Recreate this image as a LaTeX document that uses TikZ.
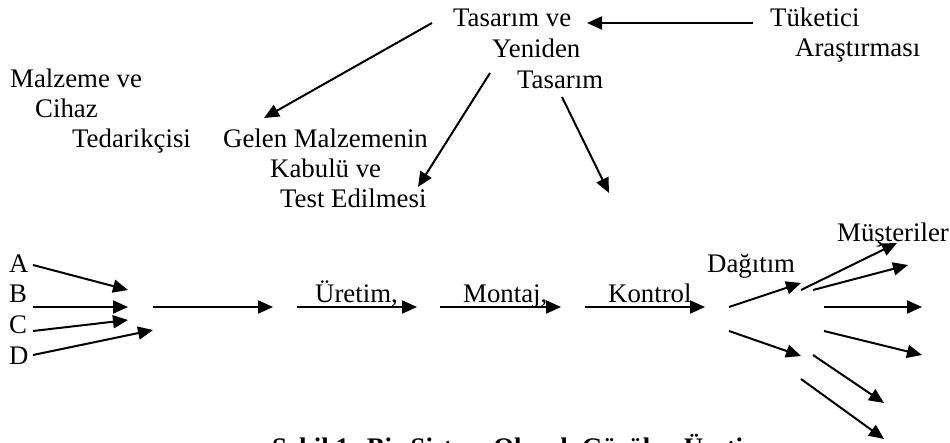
\documentclass[tikz,border=0pt]{standalone}
\usepackage{fontspec}
\setmainfont{Liberation Serif}
\usetikzlibrary{arrows.meta}
\begin{document}
\begin{tikzpicture}[x=1pt,y=-1pt,
  lbl/.style={anchor=base west,inner sep=0pt,font=\fontsize{26.8}{31}\selectfont},
  captext/.style={lbl,font=\fontsize{26.8}{31}\selectfont\bfseries},
  arr/.style={line width=2pt,-{Triangle[length=15pt,width=13pt]}}]
\useasboundingbox (0,0) rectangle (950,443);
\clip (0,0) rectangle (950,443);
% texts
\node[lbl] (tas1) at (453,27) {Tasarım ve};
\node[lbl] (tas2) at (492,58) {Yeniden};
\node[lbl] (tas3) at (517,89) {Tasarım};
\node[lbl] (tuk1) at (770,27) {Tüketici};
\node[lbl] (tuk2) at (795,57) {Araştırması};
\node[lbl] (mal1) at (10,88) {Malzeme ve};
\node[lbl] (mal2) at (35,118) {Cihaz};
\node[lbl] (mal3) at (72,148) {Tedarikçisi};
\node[lbl] (gel1) at (223,148) {Gelen Malzemenin};
\node[lbl] (gel2) at (270,178) {Kabulü ve};
\node[lbl] (gel3) at (280,208) {Test Edilmesi};
\node[lbl] (A) at (9,273) {A};
\node[lbl] (B) at (9,303) {B};
\node[lbl] (C) at (9,334) {C};
\node[lbl] (D) at (9,365) {D};
\node[lbl] (ure) at (315,303) {Üretim,};
\node[lbl] (mon) at (463,303) {Montaj,};
\node[lbl] (kon) at (608,303) {Kontrol};
\node[lbl] (dag) at (707,273) {Dağıtım};
\node[lbl] (mus) at (837,242) {Müşteriler};
\node[captext] (caption) at (272,456) {Şekil 1: Bir Sistem Olarak Görülen Üretim};
% connector end points
\coordinate (t0) at (753,23);  \coordinate (t1) at (587,23);
\coordinate (g0) at (432,23);  \coordinate (g1) at (264,118);
\coordinate (e0) at (490,73);  \coordinate (e1) at (418,187);
\coordinate (k0) at (562,97);  \coordinate (k1) at (609,193);
\coordinate (a0) at (33,265);  \coordinate (a1) at (128,290);
\coordinate (b0) at (33,307);  \coordinate (b1) at (128,307);
\coordinate (c0) at (33,331);  \coordinate (c1) at (128,320);
\coordinate (d0) at (33,355);  \coordinate (d1) at (153,330);
\coordinate (m0) at (153,307); \coordinate (m1) at (273,307);
\coordinate (u0) at (297,307); \coordinate (u1) at (417,307);
\coordinate (o0) at (440,307); \coordinate (o1) at (561,307);
\coordinate (n0) at (585,307); \coordinate (n1) at (705,307);
\coordinate (p0) at (729,307); \coordinate (p1) at (801,283);
\coordinate (q0) at (729,331); \coordinate (q1) at (801,356);
\coordinate (r0) at (801,290); \coordinate (r1) at (897,243);
\coordinate (s0) at (813,290); \coordinate (s1) at (908,265);
\coordinate (v0) at (824,307); \coordinate (v1) at (922,307);
\coordinate (w0) at (824,331); \coordinate (w1) at (922,355);
\coordinate (x0) at (813,355); \coordinate (x1) at (884,403);
\coordinate (y0) at (801,379); \coordinate (y1) at (884,439);
% connectors
\foreach \p in {t,g,e,k,a,b,c,d,m,u,o,n,p,q,r,s,v,w,x,y}
  \draw[arr] (\p0) -- (\p1);
\end{tikzpicture}
\end{document}
